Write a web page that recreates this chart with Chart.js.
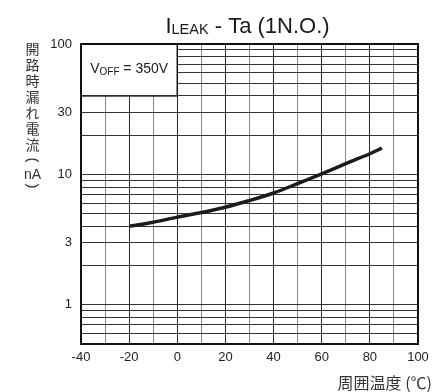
<!DOCTYPE html>
<html>
<head>
<meta charset="utf-8">
<script src="https://cdn.jsdelivr.net/npm/chart.js@4/dist/chart.umd.min.js"></script>
<style>
html, body { margin: 0; padding: 0; background: #fff; }
</style>
</head>
<body>
<canvas id="leakChart" width="440" height="392"></canvas>
<script>
// Leak current vs ambient temperature (1N.O.)
const temps = [-20, -10, 0, 10, 20, 30, 40, 50, 60, 70, 80, 85];
const leakNA = [4.0, 4.3, 4.7, 5.1, 5.6, 6.3, 7.2, 8.5, 10.1, 12.1, 14.4, 15.9];

const xTickLabels = [-40, -20, 0, 20, 40, 60, 80, 100];
const yTickLabels = [1, 3, 10, 30, 100];
const yGridValues = [0.5, 0.6, 0.7, 0.8, 0.9, 1, 2, 3, 4, 5, 6, 7, 8, 9,
    10, 20, 30, 40, 50, 60, 70, 80, 90, 100];

const yTitleChars = ['開', '路', '時', '漏', 'れ', '電', '流'];
const xTitle = '周囲温度 (℃)';

const SANS = '"Liberation Sans", Arial, sans-serif';
const CJK = '"Noto Sans CJK JP", sans-serif';

// title, axis titles, condition box and the frame
const decorations = {
    id: 'decorations',
    afterDraw(chart) {
        const ctx = chart.ctx;
        const area = chart.chartArea;
        const xs = chart.scales.x;
        const ys = chart.scales.y;

        ctx.save();

        // condition box in the upper left corner
        const bx1 = xs.getPixelForValue(0);
        const by1 = ys.getPixelForValue(40);
        ctx.fillStyle = '#fff';
        ctx.fillRect(area.left, area.top, bx1 - area.left, by1 - area.top);
        ctx.strokeStyle = '#111';
        ctx.lineWidth = 1.5;
        ctx.strokeRect(area.left, area.top, bx1 - area.left, by1 - area.top);

        ctx.fillStyle = '#222';
        ctx.textBaseline = 'alphabetic';
        ctx.textAlign = 'left';
        const big = '14px ' + SANS, small = '10px ' + SANS;
        ctx.font = big; const wV = ctx.measureText('V').width;
        ctx.font = small; const wOff = ctx.measureText('OFF').width;
        ctx.font = big; const wRest = ctx.measureText(' = 350V').width;
        let tx = (area.left + bx1) / 2 - (wV + wOff + wRest) / 2;
        const ty = area.top + 29;
        ctx.font = big; ctx.fillText('V', tx, ty); tx += wV;
        ctx.font = small; ctx.fillText('OFF', tx, ty + 2); tx += wOff;
        ctx.font = big; ctx.fillText(' = 350V', tx, ty);

        // frame
        ctx.strokeStyle = '#111';
        ctx.lineWidth = 2;
        ctx.strokeRect(area.left, area.top, area.right - area.left, area.bottom - area.top);

        // chart title with subscript
        const tBig = '22px ' + SANS, tSmall = '14.5px ' + SANS;
        ctx.font = tBig; const wI = ctx.measureText('I').width;
        ctx.font = tSmall; const wLeak = ctx.measureText('LEAK').width;
        ctx.font = tBig; const wTail = ctx.measureText(' - Ta (1N.O.)').width;
        let hx = 247.5 - (wI + wLeak + wTail) / 2;
        const hy = 32.5;
        ctx.fillStyle = '#1a1a1a';
        ctx.font = tBig; ctx.fillText('I', hx, hy); hx += wI;
        ctx.font = tSmall; ctx.fillText('LEAK', hx, hy + 1); hx += wLeak;
        ctx.font = tBig; ctx.fillText(' - Ta (1N.O.)', hx, hy);

        // vertical y axis title
        ctx.fillStyle = '#333';
        ctx.textAlign = 'center';
        ctx.textBaseline = 'middle';
        ctx.font = '14px ' + CJK;
        const cx = 32.5;
        yTitleChars.forEach((ch, i) => ctx.fillText(ch, cx, 48.7 + 16 * i));
        ctx.font = '15px ' + SANS;
        ctx.save();
        ctx.translate(cx, 160);
        ctx.rotate(Math.PI / 2);
        ctx.fillText('(', 0, 0);
        ctx.restore();
        ctx.font = '14px ' + SANS;
        ctx.fillText('nA', cx, 175.5);
        ctx.font = '15px ' + SANS;
        ctx.save();
        ctx.translate(cx, 186);
        ctx.rotate(Math.PI / 2);
        ctx.fillText(')', 0, 0);
        ctx.restore();

        // x axis title
        ctx.textAlign = 'right';
        ctx.font = '16px ' + CJK;
        ctx.fillText(xTitle, 432, 383);

        ctx.restore();
    }
};

new Chart(document.getElementById('leakChart'), {
    type: 'line',
    data: {
        datasets: [{
            label: 'ILEAK',
            data: temps.map((t, i) => ({ x: t, y: leakNA[i] })),
            borderColor: '#1c1c1c',
            borderWidth: 3.5,
            pointRadius: 0,
            cubicInterpolationMode: 'monotone',
            fill: false
        }]
    },
    options: {
        responsive: false,
        animation: false,
        layout: {
            padding: { top: 44, right: 22, bottom: 0, left: 0 }
        },
        plugins: {
            legend: { display: false },
            title: { display: false },
            tooltip: { enabled: false }
        },
        scales: {
            x: {
                type: 'linear',
                min: -40,
                max: 100,
                afterFit: (s) => { s.height = 48; },
                ticks: {
                    stepSize: 10,
                    autoSkip: false,
                    maxRotation: 0,
                    padding: 6,
                    color: '#222',
                    font: { family: SANS, size: 13 },
                    callback: (v) => xTickLabels.includes(v) ? String(v) : ''
                },
                grid: {
                    drawTicks: false,
                    lineWidth: 1,
                    color: (c) => (c.tick && c.tick.value % 20 === 0) ? '#2a2a2a' : '#8a8a8a'
                },
                border: { display: false }
            },
            y: {
                type: 'logarithmic',
                min: 0.5,
                max: 100,
                afterFit: (s) => { s.width = 81; },
                afterBuildTicks: (s) => {
                    s.ticks = yGridValues.map((v) => ({ value: v }));
                },
                ticks: {
                    autoSkip: false,
                    padding: 9,
                    color: '#222',
                    font: { family: SANS, size: 13 },
                    callback: (v) => yTickLabels.includes(v) ? String(v) : ''
                },
                grid: {
                    drawTicks: false,
                    lineWidth: 1,
                    color: '#333'
                },
                border: { display: false }
            }
        }
    },
    plugins: [decorations]
});
</script>
</body>
</html>
